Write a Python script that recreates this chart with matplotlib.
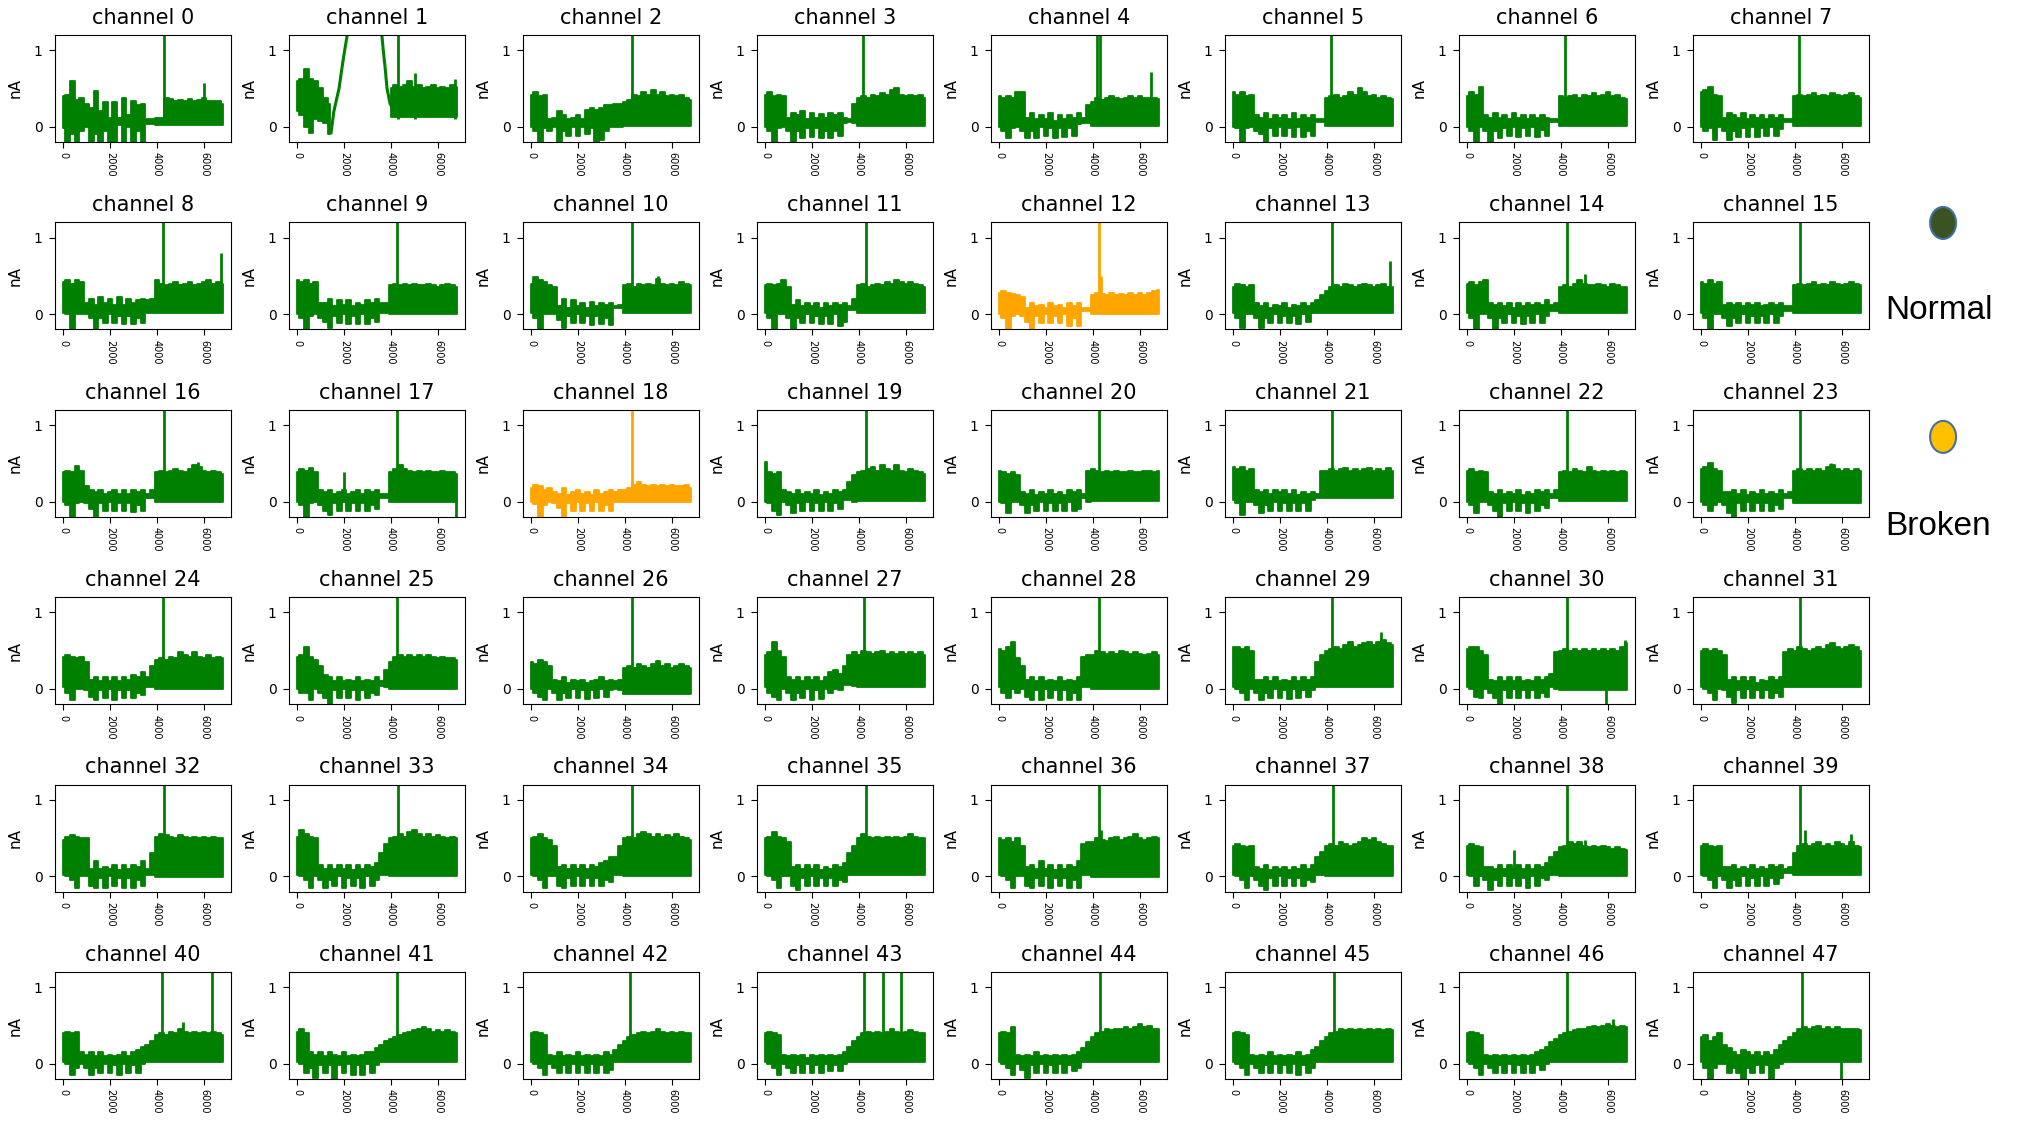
import numpy as np
import matplotlib.pyplot as plt
from matplotlib.patches import Ellipse

nan = float('nan')

# sample position of each envelope reading (every 200 samples)
t = list(range(0, 6801, 200))

# upper edge of the trace, read per channel
# (values at t = 0..1000 | 1200..3800 | 4000..6800)
upper = [
    [0.40,0.42,0.60,0.35,0.38,0.30, 0.25,0.47,0.20,0.32,0.12,0.32,0.12,0.38,0.15,0.33,0.28,0.30,0.10,0.10, 0.12,0.12,0.38,0.36,0.34,0.35,0.33,0.36,0.34,0.35,0.38,0.33,0.34,0.33,0.30],
    [0.60,0.62,0.75,0.62,0.60,0.50, 0.38,0.30,nan,nan,nan,nan,nan,nan,nan,nan,nan,nan,nan,nan, 0.50,0.55,0.52,0.55,0.60,0.52,0.55,0.50,0.52,0.55,0.50,0.52,0.50,0.55,0.52],
    [0.42,0.45,0.40,0.42,0.10,0.12, 0.20,0.15,0.10,0.12,0.15,0.10,0.22,0.25,0.22,0.25,0.28,0.28,0.30,0.30, 0.32,0.35,0.42,0.40,0.45,0.42,0.48,0.42,0.45,0.40,0.42,0.40,0.42,0.38,0.35],
    [0.42,0.45,0.40,0.42,0.40,0.12, 0.18,0.15,0.20,0.10,0.18,0.12,0.16,0.12,0.18,0.15,0.18,0.12,0.10,0.30, 0.38,0.40,0.38,0.42,0.40,0.44,0.42,0.48,0.50,0.42,0.40,0.42,0.40,0.42,0.38],
    [0.40,0.38,0.40,0.38,0.45,0.45, 0.12,0.18,0.10,0.15,0.10,0.18,0.08,0.15,0.10,0.15,0.12,0.18,0.12,0.28, 0.32,0.38,0.35,0.38,0.40,0.38,0.36,0.38,0.40,0.38,0.40,0.38,0.38,0.38,0.36],
    [0.45,0.42,0.45,0.40,0.42,0.15, 0.12,0.18,0.10,0.15,0.12,0.15,0.10,0.18,0.10,0.15,0.12,0.15,0.10,0.10, 0.38,0.40,0.42,0.38,0.40,0.45,0.42,0.50,0.45,0.40,0.42,0.38,0.40,0.38,0.36],
    [0.40,0.45,0.42,0.52,0.15,0.12, 0.18,0.12,0.15,0.10,0.18,0.12,0.15,0.10,0.15,0.12,0.15,0.12,0.10,0.10, 0.40,0.38,0.40,0.42,0.38,0.42,0.40,0.44,0.40,0.42,0.46,0.40,0.42,0.38,0.36],
    [0.45,0.48,0.52,0.42,0.40,0.12, 0.18,0.15,0.12,0.18,0.10,0.15,0.12,0.15,0.10,0.15,0.12,0.15,0.10,0.10, 0.40,0.42,0.40,0.42,0.44,0.40,0.42,0.40,0.44,0.42,0.40,0.42,0.44,0.40,0.38],
    [0.42,0.45,0.40,0.44,0.42,0.15, 0.20,0.12,0.22,0.15,0.20,0.12,0.22,0.12,0.20,0.15,0.18,0.20,0.18,0.20, 0.45,0.40,0.38,0.40,0.42,0.38,0.40,0.42,0.38,0.40,0.42,0.45,0.40,0.42,0.40],
    [0.45,0.42,0.45,0.40,0.42,0.15, 0.15,0.20,0.10,0.18,0.12,0.18,0.10,0.15,0.12,0.18,0.15,0.20,0.15,0.15, 0.38,0.40,0.38,0.40,0.38,0.40,0.38,0.38,0.40,0.38,0.36,0.38,0.40,0.38,0.36],
    [0.40,0.48,0.45,0.42,0.38,0.35, 0.10,0.20,0.08,0.18,0.10,0.15,0.08,0.16,0.10,0.15,0.12,0.15,0.10,0.12, 0.38,0.40,0.36,0.40,0.38,0.40,0.38,0.46,0.40,0.38,0.40,0.38,0.42,0.40,0.38],
    [0.38,0.40,0.38,0.40,0.45,0.35, 0.12,0.18,0.10,0.15,0.10,0.15,0.08,0.15,0.10,0.15,0.12,0.15,0.10,0.20, 0.38,0.40,0.36,0.38,0.40,0.38,0.42,0.40,0.45,0.42,0.40,0.42,0.40,0.38,0.36],
    [0.28,0.30,0.28,0.26,0.25,0.22, 0.08,0.15,0.10,0.12,0.08,0.15,0.10,0.12,0.08,0.15,0.10,0.15,0.08,0.08, 0.25,0.28,0.26,0.25,0.27,0.25,0.26,0.25,0.27,0.25,0.28,0.25,0.27,0.30,0.32],
    [0.36,0.40,0.38,0.36,0.38,0.15, 0.10,0.15,0.08,0.12,0.10,0.15,0.08,0.12,0.10,0.15,0.10,0.15,0.18,0.25, 0.30,0.35,0.38,0.36,0.40,0.38,0.36,0.38,0.40,0.38,0.36,0.38,0.40,0.36,0.35],
    [0.40,0.42,0.38,0.42,0.45,0.15, 0.12,0.15,0.10,0.15,0.08,0.15,0.10,0.15,0.12,0.15,0.12,0.18,0.12,0.15, 0.35,0.38,0.36,0.40,0.45,0.40,0.38,0.38,0.40,0.38,0.36,0.40,0.38,0.36,0.35],
    [0.42,0.40,0.44,0.40,0.42,0.12, 0.15,0.12,0.15,0.10,0.15,0.12,0.15,0.10,0.12,0.15,0.12,0.15,0.10,0.10, 0.38,0.40,0.38,0.40,0.42,0.38,0.40,0.38,0.42,0.40,0.38,0.40,0.42,0.40,0.38],
    [0.38,0.40,0.38,0.47,0.40,0.20, 0.15,0.12,0.15,0.10,0.12,0.15,0.10,0.15,0.10,0.15,0.12,0.15,0.10,0.15, 0.38,0.40,0.38,0.40,0.42,0.40,0.38,0.42,0.48,0.45,0.40,0.38,0.40,0.38,0.36],
    [0.38,0.42,0.40,0.44,0.38,0.15, 0.12,0.15,0.10,0.12,0.15,0.10,0.12,0.15,0.10,0.15,0.12,0.15,0.10,0.10, 0.38,0.42,0.48,0.42,0.40,0.38,0.40,0.38,0.40,0.38,0.38,0.40,0.38,0.38,0.36],
    [0.18,0.22,0.20,0.15,0.18,0.12, 0.10,0.18,0.08,0.12,0.15,0.10,0.12,0.08,0.15,0.10,0.12,0.15,0.12,0.15, 0.15,0.18,0.22,0.25,0.22,0.20,0.22,0.20,0.22,0.20,0.22,0.20,0.20,0.22,0.18],
    [0.52,0.38,0.36,0.38,0.15,0.12, 0.10,0.15,0.10,0.12,0.10,0.15,0.08,0.12,0.10,0.15,0.12,0.15,0.25,0.35, 0.38,0.40,0.42,0.45,0.40,0.48,0.42,0.40,0.48,0.40,0.38,0.42,0.40,0.38,0.36],
    [0.40,0.38,0.36,0.38,0.35,0.12, 0.10,0.15,0.08,0.12,0.10,0.15,0.10,0.12,0.08,0.15,0.12,0.15,0.10,0.40, 0.42,0.40,0.38,0.40,0.38,0.40,0.38,0.38,0.40,0.38,0.38,0.40,0.40,0.38,0.40],
    [0.45,0.42,0.45,0.40,0.42,0.15, 0.12,0.15,0.10,0.15,0.12,0.15,0.10,0.15,0.08,0.12,0.10,0.12,0.10,0.40, 0.40,0.42,0.40,0.42,0.44,0.40,0.42,0.40,0.42,0.44,0.40,0.42,0.40,0.44,0.40],
    [0.40,0.42,0.38,0.40,0.38,0.12, 0.10,0.15,0.10,0.12,0.10,0.15,0.08,0.12,0.10,0.15,0.12,0.15,0.10,0.15, 0.38,0.40,0.38,0.42,0.40,0.38,0.45,0.40,0.38,0.40,0.38,0.40,0.38,0.40,0.38],
    [0.42,0.45,0.50,0.42,0.40,0.12, 0.12,0.15,0.10,0.15,0.08,0.12,0.10,0.15,0.10,0.12,0.10,0.15,0.10,0.12, 0.40,0.42,0.40,0.42,0.40,0.42,0.40,0.45,0.48,0.42,0.40,0.42,0.40,0.42,0.40],
    [0.42,0.44,0.42,0.40,0.42,0.35, 0.12,0.15,0.10,0.15,0.10,0.15,0.10,0.15,0.12,0.18,0.15,0.22,0.15,0.30, 0.38,0.40,0.38,0.42,0.40,0.48,0.45,0.42,0.48,0.42,0.40,0.44,0.40,0.42,0.40],
    [0.42,0.45,0.55,0.42,0.38,0.30, 0.18,0.15,0.10,0.15,0.10,0.12,0.10,0.15,0.10,0.12,0.10,0.15,0.10,0.25, 0.35,0.42,0.45,0.42,0.44,0.42,0.45,0.42,0.44,0.42,0.40,0.42,0.40,0.40,0.38],
    [0.35,0.32,0.38,0.35,0.30,0.12, 0.10,0.15,0.08,0.12,0.10,0.12,0.08,0.10,0.12,0.15,0.10,0.12,0.10,0.12, 0.28,0.30,0.28,0.32,0.30,0.28,0.32,0.36,0.30,0.32,0.28,0.30,0.32,0.30,0.28],
    [0.45,0.48,0.62,0.50,0.42,0.15, 0.12,0.15,0.10,0.15,0.12,0.15,0.10,0.15,0.22,0.25,0.20,0.30,0.45,0.48, 0.45,0.50,0.48,0.46,0.48,0.50,0.46,0.48,0.46,0.48,0.46,0.48,0.46,0.48,0.45],
    [0.52,0.50,0.55,0.62,0.40,0.30, 0.12,0.15,0.10,0.15,0.10,0.12,0.10,0.15,0.10,0.12,0.10,0.15,0.42,0.45, 0.45,0.50,0.48,0.46,0.48,0.46,0.50,0.48,0.46,0.48,0.46,0.44,0.46,0.48,0.45],
    [0.55,0.55,0.52,0.55,0.50,0.12, 0.12,0.15,0.10,0.15,0.10,0.12,0.10,0.15,0.10,0.15,0.12,0.15,0.35,0.45, 0.50,0.52,0.55,0.52,0.58,0.62,0.55,0.58,0.60,0.62,0.58,0.62,0.64,0.60,0.58],
    [0.52,0.55,0.55,0.50,0.45,0.12, 0.10,0.15,0.10,0.15,0.10,0.15,0.10,0.12,0.10,0.15,0.12,0.15,0.20,0.48, 0.50,0.52,0.50,0.52,0.50,0.52,0.50,0.52,0.50,0.52,0.50,0.52,0.50,0.55,0.60],
    [0.50,0.52,0.50,0.52,0.50,0.45, 0.12,0.15,0.10,0.15,0.10,0.15,0.08,0.12,0.10,0.15,0.12,0.15,0.48,0.52, 0.50,0.55,0.52,0.50,0.52,0.55,0.52,0.58,0.60,0.55,0.52,0.55,0.58,0.55,0.50],
    [0.48,0.52,0.54,0.52,0.50,0.50, 0.10,0.20,0.10,0.12,0.10,0.15,0.08,0.15,0.10,0.15,0.12,0.20,0.10,0.30, 0.52,0.55,0.54,0.52,0.50,0.54,0.52,0.50,0.52,0.50,0.52,0.50,0.52,0.50,0.50],
    [0.52,0.60,0.55,0.52,0.50,0.15, 0.10,0.15,0.10,0.15,0.10,0.15,0.08,0.15,0.10,0.15,0.12,0.18,0.30,0.42, 0.50,0.52,0.55,0.52,0.58,0.60,0.55,0.52,0.55,0.52,0.54,0.52,0.50,0.52,0.50],
    [0.50,0.52,0.55,0.50,0.48,0.40, 0.12,0.15,0.10,0.15,0.10,0.15,0.10,0.15,0.12,0.18,0.20,0.25,0.25,0.40, 0.50,0.52,0.50,0.55,0.58,0.55,0.52,0.55,0.52,0.54,0.52,0.55,0.52,0.50,0.48],
    [0.50,0.52,0.58,0.52,0.50,0.45, 0.12,0.15,0.10,0.15,0.10,0.15,0.08,0.12,0.10,0.15,0.12,0.18,0.30,0.40, 0.50,0.55,0.52,0.50,0.52,0.50,0.52,0.50,0.52,0.50,0.52,0.55,0.52,0.50,0.50],
    [0.50,0.48,0.50,0.45,0.50,0.40, 0.12,0.15,0.10,0.20,0.10,0.15,0.08,0.15,0.10,0.15,0.12,0.20,0.42,0.45, 0.45,0.50,0.48,0.46,0.50,0.52,0.48,0.50,0.52,0.55,0.50,0.48,0.50,0.52,0.50],
    [0.40,0.42,0.40,0.38,0.40,0.12, 0.10,0.15,0.08,0.12,0.10,0.12,0.08,0.12,0.10,0.15,0.10,0.15,0.25,0.32, 0.40,0.42,0.40,0.45,0.42,0.40,0.42,0.45,0.50,0.48,0.50,0.45,0.42,0.40,0.40],
    [0.40,0.42,0.40,0.38,0.12,0.12, 0.10,0.15,0.10,0.15,0.10,0.15,0.10,0.15,0.10,0.15,0.12,0.18,0.25,0.32, 0.38,0.40,0.45,0.42,0.45,0.40,0.38,0.40,0.38,0.40,0.38,0.36,0.38,0.36,0.35],
    [0.40,0.42,0.40,0.38,0.40,0.12, 0.12,0.15,0.10,0.12,0.10,0.15,0.10,0.12,0.10,0.15,0.12,0.15,0.10,0.12, 0.30,0.40,0.42,0.40,0.42,0.45,0.40,0.42,0.40,0.45,0.42,0.40,0.45,0.40,0.38],
    [0.40,0.42,0.40,0.42,0.15,0.12, 0.15,0.10,0.15,0.10,0.12,0.10,0.12,0.15,0.10,0.15,0.18,0.22,0.25,0.30, 0.38,0.40,0.38,0.42,0.40,0.45,0.42,0.40,0.42,0.40,0.42,0.40,0.42,0.40,0.38],
    [0.42,0.45,0.40,0.15,0.12,0.15, 0.10,0.15,0.12,0.10,0.15,0.10,0.12,0.10,0.12,0.15,0.15,0.20,0.25,0.30, 0.32,0.35,0.38,0.40,0.42,0.44,0.46,0.48,0.45,0.42,0.44,0.42,0.44,0.42,0.40],
    [0.40,0.42,0.40,0.38,0.12,0.10, 0.15,0.10,0.12,0.10,0.15,0.10,0.12,0.10,0.12,0.10,0.15,0.12,0.18,0.25, 0.30,0.35,0.38,0.40,0.42,0.40,0.42,0.45,0.42,0.40,0.42,0.40,0.42,0.40,0.40],
    [0.40,0.42,0.40,0.38,0.12,0.10, 0.12,0.10,0.12,0.08,0.12,0.10,0.12,0.10,0.12,0.10,0.12,0.15,0.22,0.30, 0.35,0.40,0.42,0.40,0.42,0.40,0.42,0.45,0.42,0.40,0.42,0.44,0.42,0.40,0.40],
    [0.40,0.42,0.40,0.48,0.12,0.10, 0.12,0.10,0.15,0.10,0.12,0.10,0.12,0.10,0.12,0.10,0.12,0.15,0.20,0.28, 0.35,0.40,0.42,0.45,0.44,0.46,0.45,0.48,0.46,0.48,0.52,0.48,0.50,0.46,0.45],
    [0.40,0.42,0.40,0.38,0.12,0.10, 0.12,0.10,0.15,0.10,0.12,0.10,0.12,0.10,0.15,0.10,0.12,0.18,0.22,0.30, 0.35,0.40,0.42,0.45,0.44,0.45,0.44,0.45,0.44,0.45,0.44,0.45,0.44,0.45,0.44],
    [0.40,0.42,0.40,0.38,0.12,0.10, 0.12,0.10,0.12,0.10,0.12,0.10,0.12,0.10,0.12,0.15,0.18,0.22,0.28,0.32, 0.38,0.40,0.42,0.44,0.45,0.46,0.48,0.50,0.48,0.50,0.52,0.50,0.48,0.50,0.48],
    [0.35,0.38,0.30,0.35,0.40,0.25, 0.20,0.15,0.12,0.18,0.15,0.12,0.15,0.10,0.15,0.12,0.18,0.25,0.30,0.35, 0.40,0.45,0.48,0.46,0.48,0.50,0.46,0.48,0.46,0.48,0.46,0.45,0.46,0.45,0.44],
]

# lower edge of the trace for t = 0..3800
lower = [
    [-0.02,-0.25,-0.10,-0.25,-0.05,0.00,-0.25,-0.10,-0.25,-0.05,-0.25,-0.25,0.02,-0.25,0.00,-0.25,-0.05,-0.25,0.04,0.04],
    [0.20,0.15,0.00,-0.08,0.10,0.08,0.05,-0.10,nan,nan,nan,nan,nan,nan,nan,nan,nan,nan,nan,nan],
    [0.00,-0.05,-0.20,-0.02,-0.05,0.00,-0.20,-0.05,-0.12,0.00,-0.12,0.00,-0.10,-0.02,-0.20,-0.18,-0.05,0.00,0.00,0.00],
    [0.00,-0.05,-0.20,-0.02,0.00,-0.05,-0.20,-0.05,-0.15,-0.02,-0.14,-0.02,-0.15,-0.05,-0.15,-0.05,-0.12,0.05,0.06,0.05],
    [0.00,-0.05,-0.15,-0.02,0.00,-0.05,-0.15,-0.05,-0.15,0.00,-0.12,-0.02,-0.15,-0.02,-0.13,-0.02,-0.12,0.04,0.05,0.05],
    [0.00,-0.02,-0.20,-0.02,0.00,-0.05,-0.10,-0.20,-0.02,-0.12,0.00,-0.12,-0.02,-0.13,0.00,-0.13,-0.05,-0.12,0.06,0.06],
    [0.00,-0.05,-0.20,0.00,-0.05,-0.20,-0.05,-0.15,-0.02,-0.12,0.00,-0.13,-0.02,-0.12,0.00,-0.13,-0.04,-0.12,0.06,0.06],
    [0.00,-0.05,-0.02,-0.18,0.00,-0.05,-0.18,-0.05,-0.13,-0.02,-0.13,0.00,-0.13,-0.02,-0.12,0.00,-0.12,-0.03,0.06,0.06],
    [0.02,0.00,-0.20,0.00,0.00,0.00,-0.05,-0.20,-0.05,-0.12,0.00,-0.12,-0.02,-0.13,-0.02,-0.13,-0.05,-0.12,0.02,0.02],
    [0.00,-0.05,-0.20,-0.02,0.00,-0.05,-0.10,-0.18,-0.02,-0.12,0.00,-0.13,-0.02,-0.13,0.00,-0.13,-0.05,-0.10,0.02,0.02],
    [0.02,-0.05,-0.20,0.00,0.00,0.00,-0.08,-0.18,-0.02,-0.12,0.00,-0.12,-0.02,-0.14,-0.02,-0.13,-0.05,-0.14,0.08,0.08],
    [0.02,-0.05,-0.20,0.00,0.00,-0.05,-0.20,-0.05,-0.12,0.00,-0.12,-0.02,-0.13,-0.02,-0.13,0.00,-0.15,-0.10,0.06,0.06],
    [0.00,-0.05,-0.20,-0.02,0.00,-0.02,-0.10,-0.20,-0.02,-0.12,0.00,-0.12,-0.02,-0.12,0.00,-0.15,-0.05,-0.15,0.04,0.04],
    [0.02,-0.05,-0.18,0.00,0.00,-0.05,-0.18,-0.05,-0.12,0.00,-0.12,-0.02,-0.12,-0.02,-0.13,0.00,-0.10,0.02,0.02,0.02],
    [0.02,-0.05,-0.20,0.00,0.00,-0.05,-0.20,-0.05,-0.12,0.00,-0.12,-0.02,-0.13,-0.02,-0.12,0.00,-0.12,-0.02,0.04,0.04],
    [0.02,-0.05,-0.20,0.00,0.00,-0.05,-0.15,-0.05,-0.12,0.00,-0.12,-0.02,-0.12,-0.02,-0.12,0.00,-0.12,-0.02,0.04,0.04],
    [0.00,-0.05,-0.20,-0.02,0.00,-0.02,-0.10,-0.20,-0.02,-0.12,0.00,-0.12,-0.02,-0.12,-0.02,-0.14,-0.05,-0.12,0.04,0.04],
    [0.00,-0.05,-0.20,-0.02,0.00,-0.05,-0.12,-0.18,-0.02,-0.12,0.00,-0.12,-0.02,-0.12,-0.02,-0.13,-0.05,-0.10,0.04,0.04],
    [0.00,-0.03,-0.20,-0.05,0.00,-0.02,-0.08,-0.20,-0.02,-0.12,0.00,-0.12,-0.02,-0.13,0.00,-0.13,-0.05,-0.13,0.00,0.00],
    [0.00,-0.02,-0.12,-0.18,0.00,-0.05,-0.15,-0.02,-0.12,0.00,-0.12,-0.02,-0.13,0.00,-0.12,-0.02,-0.10,0.02,0.02,0.00],
    [0.00,-0.02,-0.15,0.00,0.00,-0.05,-0.15,-0.05,-0.12,0.00,-0.12,-0.02,-0.12,-0.02,-0.13,0.00,-0.12,-0.10,0.04,0.00],
    [0.02,-0.02,-0.18,0.00,0.00,-0.05,-0.15,-0.05,-0.12,0.00,-0.12,-0.02,-0.12,-0.02,-0.13,-0.02,-0.12,0.02,0.04,0.04],
    [0.00,-0.05,-0.15,0.00,0.00,-0.05,-0.12,-0.20,-0.02,-0.12,0.00,-0.12,-0.02,-0.15,-0.02,-0.12,-0.05,-0.08,0.04,0.04],
    [0.00,-0.05,-0.12,-0.05,0.00,-0.05,-0.15,-0.20,-0.02,-0.12,0.00,-0.12,-0.02,-0.12,-0.02,-0.12,-0.05,-0.10,0.04,0.04],
    [0.02,-0.05,-0.15,0.00,0.00,-0.02,-0.10,-0.15,-0.02,-0.12,0.00,-0.15,-0.02,-0.12,-0.02,-0.12,-0.05,-0.08,0.02,0.02],
    [0.00,-0.05,-0.05,-0.15,0.00,-0.05,-0.12,-0.20,-0.02,-0.12,0.00,-0.12,-0.02,-0.15,-0.02,-0.12,-0.05,-0.08,0.04,0.02],
    [0.00,-0.05,-0.10,-0.15,0.00,-0.05,-0.15,-0.05,-0.12,0.00,-0.12,-0.02,-0.13,-0.02,-0.12,0.00,-0.10,-0.02,0.00,-0.02],
    [0.02,-0.05,-0.10,-0.15,0.00,-0.05,-0.15,-0.05,-0.12,0.00,-0.15,-0.02,-0.13,0.00,-0.05,0.00,-0.02,0.05,0.05,0.04],
    [0.02,-0.05,-0.12,0.00,-0.05,0.00,-0.10,-0.15,-0.02,-0.15,0.00,-0.12,-0.02,-0.15,-0.02,-0.15,-0.05,-0.15,0.02,0.02],
    [0.02,0.00,-0.05,-0.15,0.00,-0.05,-0.15,-0.05,-0.12,0.00,-0.12,-0.02,-0.13,0.00,-0.12,-0.02,-0.10,-0.02,0.02,0.02],
    [0.02,0.00,-0.10,-0.12,0.00,-0.05,-0.12,-0.20,-0.02,-0.12,0.00,-0.12,-0.02,-0.12,-0.02,-0.12,-0.05,-0.10,0.02,0.00],
    [0.02,0.00,-0.05,-0.15,0.00,-0.02,-0.10,-0.18,-0.02,-0.12,0.00,-0.12,-0.02,-0.12,-0.02,-0.12,-0.05,-0.10,0.02,0.02],
    [0.02,0.00,-0.05,-0.15,0.00,0.00,-0.12,-0.15,-0.02,-0.15,0.00,-0.12,-0.02,-0.15,-0.02,-0.15,-0.05,-0.12,0.02,0.02],
    [0.02,0.00,-0.05,-0.15,0.00,-0.05,-0.15,-0.05,-0.12,0.00,-0.15,-0.02,-0.12,-0.02,-0.15,0.00,-0.12,-0.05,0.02,0.02],
    [0.02,0.00,-0.05,-0.15,0.00,0.00,-0.12,-0.15,-0.02,-0.12,0.00,-0.12,-0.02,-0.12,-0.02,-0.12,-0.05,-0.08,0.02,0.02],
    [0.02,0.00,-0.05,-0.15,0.00,0.00,-0.12,-0.18,-0.02,-0.12,0.00,-0.12,-0.02,-0.12,-0.02,-0.12,-0.05,-0.08,0.02,0.02],
    [0.02,0.00,-0.05,-0.15,0.00,0.00,-0.12,-0.15,-0.02,-0.12,0.00,-0.15,-0.02,-0.12,-0.02,-0.15,-0.05,-0.15,0.02,0.02],
    [0.02,0.00,-0.05,-0.15,0.00,-0.05,-0.12,-0.18,-0.02,-0.12,0.00,-0.12,-0.02,-0.13,-0.02,-0.12,-0.05,-0.08,0.02,0.02],
    [0.02,0.00,-0.12,0.00,-0.05,-0.18,-0.05,-0.12,0.00,-0.12,-0.02,-0.12,-0.02,-0.15,0.00,-0.12,-0.02,-0.05,0.02,0.02],
    [0.02,0.00,-0.05,-0.15,0.00,-0.05,-0.15,-0.05,-0.12,0.00,-0.12,-0.02,-0.12,0.00,-0.12,-0.02,-0.10,-0.02,0.04,0.04],
    [0.02,0.00,-0.15,-0.05,0.00,-0.05,-0.15,-0.05,-0.12,0.00,-0.12,-0.02,-0.15,0.00,-0.12,-0.02,-0.12,0.00,0.02,0.02],
    [0.02,0.00,-0.12,-0.05,-0.18,-0.02,-0.12,-0.02,-0.20,-0.02,-0.12,0.00,-0.15,-0.02,-0.15,0.00,-0.12,-0.02,0.02,0.02],
    [0.02,0.00,-0.05,-0.15,0.00,-0.05,-0.12,-0.02,-0.12,0.00,-0.12,-0.02,-0.12,0.00,-0.12,-0.02,-0.12,-0.08,0.02,0.02],
    [0.02,0.00,-0.05,-0.15,0.00,-0.05,-0.12,-0.02,-0.12,0.00,-0.12,-0.02,-0.12,0.00,-0.10,-0.02,-0.10,0.00,0.02,0.02],
    [0.02,0.00,-0.05,-0.15,0.00,-0.08,-0.18,-0.02,-0.12,0.00,-0.12,-0.02,-0.12,0.00,-0.12,-0.02,-0.10,-0.05,0.02,0.02],
    [0.02,0.00,-0.05,-0.15,0.00,-0.05,-0.12,-0.02,-0.12,0.00,-0.12,-0.02,-0.12,0.00,-0.15,-0.02,-0.12,-0.05,0.02,0.02],
    [0.02,0.00,-0.05,-0.15,0.00,-0.05,-0.12,-0.02,-0.12,0.00,-0.12,-0.02,-0.12,0.00,-0.12,-0.02,-0.08,0.00,0.02,0.02],
    [0.02,-0.05,-0.25,-0.05,0.00,0.00,-0.12,-0.05,-0.12,-0.25,-0.05,-0.12,-0.02,-0.12,-0.02,-0.25,-0.05,0.00,0.02,0.02],
]

# floor of the trace from t = 4000 to the end
lower_after = [0.02, 0.13, 0.01, 0.01, 0.01, 0.01, 0.01, 0.01,
               0.01, 0.00, 0.01, 0.01, 0.00, 0.01, 0.01, 0.01,
               0.00, 0.00, 0.00, 0.01, 0.01, 0.04, 0.01, -0.02,
               0.00, 0.00, -0.06, 0.03, 0.00, 0.02, -0.02, 0.02,
               -0.01, 0.01, 0.01, 0.02, -0.01, 0.01, 0.01, 0.02,
               0.02, 0.02, 0.02, 0.02, 0.02, 0.02, 0.02, 0.02]

# narrow spikes (sample, peak value)
spikes = [
    [(4290, 1.5), (6000, 0.57)],
    [(4300, 1.5), (5000, 0.7), (6700, 0.62)],
    [(4300, 1.5)],
    [(4150, 1.5), (5500, 0.5)],
    [(4150, 1.5), (4300, 1.5), (6450, 0.72)],
    [(4150, 1.5)],
    [(4150, 1.5)],
    [(4150, 1.5)],
    [(4250, 1.5), (6740, 0.8)],
    [(4250, 1.5)],
    [(4300, 1.5), (5400, 0.5)],
    [(4300, 1.5)],
    [(4250, 1.5), (4330, 0.5)],
    [(4200, 1.5), (6680, 0.7)],
    [(4250, 1.5), (5000, 0.52)],
    [(4200, 1.5)],
    [(4300, 1.5), (5750, 0.52)],
    [(2000, 0.38), (4250, 1.5), (6780, -0.3)],
    [(4300, 1.5)],
    [(4300, 1.5)],
    [(4250, 1.5)],
    [(4200, 1.5)],
    [(4250, 1.5)],
    [(4200, 1.5), (5550, 0.5)],
    [(4250, 1.5)],
    [(4250, 1.5)],
    [(4300, 1.5), (5400, 0.38)],
    [(4200, 1.5)],
    [(4250, 1.5)],
    [(4200, 1.5), (6300, 0.75)],
    [(4250, 1.5), (5900, -0.3), (6700, 0.64)],
    [(4200, 1.5)],
    [(4300, 1.5)],
    [(4300, 1.5)],
    [(4300, 1.5)],
    [(4300, 1.5)],
    [(4250, 1.5), (4320, 0.6)],
    [(4250, 1.5)],
    [(2000, 0.35), (4250, 1.5), (5000, 0.48)],
    [(4200, 1.5), (4420, 0.6), (6400, 0.55)],
    [(4200, 1.5), (5100, 0.55), (6350, 1.5)],
    [(4250, 1.5)],
    [(4200, 1.5)],
    [(4200, 1.5), (5000, 1.5), (5800, 1.5)],
    [(4300, 1.5)],
    [(4300, 1.5)],
    [(4250, 1.5), (6200, 0.58)],
    [(4300, 1.5), (5950, -0.3)],
]

# channel 1 drifts far above the range as a single thin line
ch1_arc_t = [1450, 1570, 1790, 1930, 2030, 2140, 2250, 3500, 3610, 3670, 3740, 3830, 3960, 4140]
ch1_arc_v = [-0.08, 0.2, 0.5, 0.8, 1.0, 1.2, 1.4, 1.4, 1.2, 1.0, 0.8, 0.5, 0.3, 0.2]

broken = [12, 18]

fig, axes = plt.subplots(6, 8, figsize=(20.27, 11.26), dpi=100)
fig.subplots_adjust(left=0.0271, right=0.922, top=0.969, bottom=0.0417,
                    wspace=0.33, hspace=0.75)

for ch, ax in enumerate(axes.flat):
    color = 'orange' if ch in broken else 'green'
    top = np.array(upper[ch], dtype=float)
    bot = np.array(lower[ch] + [lower_after[ch]] * 15, dtype=float)
    ok = ~np.isnan(top)
    ax.fill_between(t, bot, top, where=ok, step='mid', color=color, lw=1.3)
    if ch == 1:
        ax.plot(ch1_arc_t, ch1_arc_v, color=color, lw=2.2)
    for x, y in spikes[ch]:
        ax.vlines(x, 0.1 if y > 0 else 0.05, y, color=color, lw=2)

    ax.set_xlim(-340, 7140)
    ax.set_ylim(-0.2, 1.2)
    ax.set_xticks([0, 2000, 4000, 6000])
    ax.set_yticks([0, 1])
    ax.tick_params(axis='x', labelrotation=-90, labelsize=7, length=4)
    ax.tick_params(axis='y', labelsize=10, length=4, pad=5)
    ax.set_ylabel('nA', fontsize=11, labelpad=8)
    ax.set_title('channel %d' % ch, fontsize=15, pad=8)

# hand-drawn legend on the right
fig.add_artist(Ellipse((0.9586, 0.802), 0.0128, 0.0284, transform=fig.transFigure,
                       facecolor='#3B5323', edgecolor='#41719C', lw=1.5))
fig.add_artist(Ellipse((0.9586, 0.612), 0.0128, 0.0284, transform=fig.transFigure,
                       facecolor='#FFC000', edgecolor='#41719C', lw=1.5))
fig.text(0.93, 0.724, 'Normal', fontsize=24, family='Liberation Sans', va='center')
fig.text(0.93, 0.532, 'Broken', fontsize=24, family='Liberation Sans', va='center')

fig.savefig('out.png', dpi=100)
